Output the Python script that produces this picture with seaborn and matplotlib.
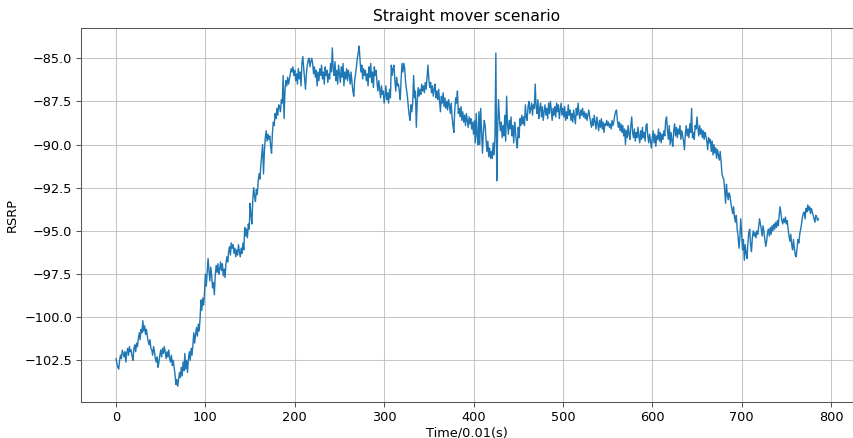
import numpy as np
import pandas as pd
import matplotlib
matplotlib.use("Agg")
import matplotlib.pyplot as plt
import seaborn as sns

title = "Straight mover scenario"
x_label = "Time/0.01(s)"
y_label = "RSRP"

rsrp = [
    -102.4,-102.7,-102.9,-103.0,-102.5,-102.2,-102.4,-101.9,-102.1,-102.3,
    -102.0,-102.6,-102.1,-101.8,-102.2,-101.7,-102.0,-101.9,-102.3,-102.5,
    -101.8,-101.6,-102.0,-101.5,-101.7,-101.2,-100.9,-101.3,-100.7,-100.9,
    -100.2,-100.8,-100.5,-101.0,-100.7,-101.1,-101.4,-101.6,-101.3,-101.8,
    -101.9,-102.2,-101.7,-102.0,-102.4,-102.6,-102.3,-102.9,-102.6,-102.2,
    -101.9,-102.3,-101.8,-102.1,-101.7,-102.0,-102.4,-102.0,-102.3,-101.9,
    -102.4,-102.6,-102.2,-102.8,-102.5,-102.9,-103.3,-103.9,-103.6,-104.0,
    -103.6,-103.2,-103.5,-102.9,-103.4,-102.6,-103.1,-102.1,-103.0,-102.5,
    -103.2,-102.4,-102.0,-102.5,-101.8,-102.2,-101.6,-100.9,-101.5,-101.0,
    -100.6,-101.1,-100.4,-100.8,-100.1,-99.0,-99.6,-98.9,-99.3,-98.6,
    -97.5,-98.2,-97.4,-96.6,-97.3,-97.9,-97.1,-97.6,-98.3,-98.0,
    -98.7,-97.6,-97.0,-97.4,-96.9,-97.5,-97.2,-96.8,-97.3,-96.9,
    -97.6,-97.2,-97.7,-96.9,-96.5,-96.8,-96.2,-95.9,-96.4,-95.7,
    -96.0,-95.8,-96.3,-96.0,-96.5,-96.1,-96.4,-95.8,-96.2,-96.5,
    -96.0,-96.3,-95.7,-96.1,-94.8,-95.3,-94.9,-95.4,-94.6,-94.9,
    -93.4,-94.1,-94.6,-93.2,-92.5,-93.0,-93.3,-92.6,-92.9,-92.2,
    -91.7,-92.0,-91.2,-90.6,-90.0,-91.7,-90.4,-89.6,-89.2,-89.8,
    -89.4,-89.7,-89.5,-90.1,-90.5,-89.3,-88.7,-88.9,-88.2,-88.5,
    -87.9,-88.3,-87.7,-87.8,-88.1,-87.4,-87.6,-86.0,-88.5,-86.9,
    -86.3,-86.6,-86.1,-86.5,-86.2,-85.9,-85.6,-85.8,-85.5,-86.0,
    -85.7,-86.3,-85.9,-86.5,-85.6,-86.2,-85.8,-86.6,-85.3,-84.9,
    -85.6,-86.2,-86.8,-85.9,-85.4,-85.1,-85.0,-85.5,-85.2,-85.0,
    -85.3,-85.9,-85.5,-86.1,-85.7,-86.6,-85.8,-86.3,-85.6,-86.0,
    -85.4,-86.2,-85.8,-86.5,-85.5,-86.0,-85.7,-86.4,-85.9,-86.2,
    -85.3,-85.8,-84.4,-85.6,-86.0,-85.2,-86.3,-85.7,-86.5,-85.4,
    -85.9,-86.4,-85.5,-86.1,-85.3,-86.6,-85.8,-86.2,-85.6,-86.3,
    -85.7,-86.0,-86.5,-85.8,-86.4,-86.9,-87.2,-86.3,-85.9,-85.5,
    -85.0,-84.7,-84.3,-85.1,-85.8,-85.4,-86.2,-85.6,-86.0,-85.7,
    -86.3,-85.9,-86.6,-85.5,-86.1,-85.3,-86.4,-85.8,-86.7,-85.5,
    -86.0,-85.7,-86.4,-86.9,-86.3,-86.8,-87.3,-86.6,-87.1,-86.9,
    -87.6,-87.2,-86.6,-87.4,-87.0,-87.6,-86.8,-87.3,-85.4,-86.0,
    -85.6,-85.4,-86.3,-86.9,-86.1,-86.6,-86.5,-86.9,-87.4,-86.2,
    -85.3,-85.8,-85.3,-85.6,-86.4,-86.8,-87.2,-87.8,-88.3,-88.6,
    -87.7,-88.1,-87.5,-86.0,-87.3,-86.9,-89.0,-87.5,-86.7,-87.2,
    -86.8,-87.1,-86.5,-86.9,-86.6,-87.0,-86.4,-86.8,-86.1,-85.4,
    -86.2,-86.7,-86.4,-87.0,-86.6,-87.2,-86.8,-86.5,-87.3,-86.9,
    -87.4,-86.8,-87.5,-88.1,-87.2,-87.6,-87.0,-87.8,-87.3,-87.9,
    -87.5,-88.0,-87.4,-87.7,-88.2,-87.6,-88.4,-88.9,-89.3,-88.0,
    -87.3,-87.6,-86.9,-88.2,-87.9,-88.4,-87.8,-88.6,-88.1,-88.7,
    -88.3,-88.9,-88.2,-88.6,-89.0,-88.4,-88.8,-88.5,-89.1,-88.7,
    -89.4,-88.6,-89.9,-88.2,-89.5,-90.0,-88.1,-90.0,-87.9,-89.2,
    -90.5,-89.3,-88.6,-88.9,-89.7,-90.4,-89.8,-90.7,-90.2,-90.8,
    -90.4,-90.8,-89.9,-90.6,-89.5,-84.7,-92.1,-89.0,-87.4,-88.5,
    -89.2,-88.7,-89.6,-88.9,-89.5,-88.3,-89.8,-87.2,-88.8,-89.4,
    -88.6,-89.1,-88.4,-89.5,-88.9,-89.9,-88.7,-89.3,-89.8,-90.2,
    -89.0,-89.6,-88.5,-88.9,-88.3,-88.8,-88.4,-88.9,-87.7,-88.4,
    -88.6,-87.8,-87.5,-88.2,-87.9,-87.6,-88.3,-87.7,-87.9,-86.5,
    -87.8,-88.2,-87.4,-88.5,-87.9,-87.6,-88.4,-87.8,-88.6,-88.1,
    -87.7,-88.3,-87.9,-88.5,-87.6,-88.2,-87.5,-88.0,-88.6,-87.9,
    -88.3,-87.8,-88.4,-87.6,-88.1,-87.7,-88.5,-88.0,-87.6,-88.3,
    -87.9,-88.4,-87.8,-88.6,-88.1,-88.5,-87.7,-88.3,-88.0,-88.6,
    -88.2,-88.7,-88.0,-88.4,-88.8,-87.9,-88.3,-87.6,-88.2,-88.5,
    -88.0,-88.3,-87.9,-88.4,-88.1,-88.5,-88.2,-88.6,-88.3,-88.0,
    -88.4,-88.7,-89.0,-88.5,-88.9,-88.3,-88.7,-89.1,-88.4,-88.8,
    -89.2,-88.6,-89.0,-88.5,-89.1,-88.7,-89.3,-88.8,-88.9,-88.6,
    -88.9,-88.7,-89.0,-88.8,-89.1,-88.6,-88.9,-88.7,-88.3,-88.1,
    -88.0,-88.6,-89.0,-88.7,-89.2,-88.8,-89.3,-88.9,-89.5,-89.1,
    -90.0,-89.2,-89.6,-88.9,-89.4,-89.7,-88.9,-88.4,-89.3,-89.6,
    -89.1,-89.8,-89.3,-89.6,-89.0,-89.5,-89.9,-89.2,-89.7,-89.0,
    -89.6,-89.3,-89.8,-88.9,-88.8,-89.5,-89.9,-89.4,-89.8,-90.2,
    -89.6,-89.2,-89.9,-89.4,-90.1,-89.5,-89.7,-89.1,-89.8,-89.3,
    -89.9,-89.4,-89.7,-89.2,-89.5,-88.6,-88.4,-89.2,-89.7,-88.9,
    -90.0,-89.3,-89.8,-90.1,-89.2,-88.8,-89.5,-89.0,-89.6,-89.1,
    -89.4,-88.9,-89.7,-89.2,-89.5,-89.8,-90.3,-89.4,-88.9,-89.5,
    -89.1,-89.6,-88.8,-89.3,-87.9,-89.6,-89.3,-89.7,-88.9,-89.1,
    -88.4,-89.0,-89.5,-88.9,-89.4,-89.1,-89.6,-89.2,-89.7,-89.3,
    -89.5,-89.8,-90.3,-89.6,-89.9,-89.7,-90.4,-89.8,-90.6,-90.0,
    -90.5,-90.2,-90.8,-90.3,-90.6,-90.9,-90.4,-91.0,-91.7,-91.9,
    -92.0,-92.6,-93.4,-92.3,-92.9,-93.2,-92.8,-93.0,-93.4,-93.7,
    -94.0,-93.6,-94.2,-94.5,-94.1,-94.9,-95.3,-96.0,-95.4,-94.3,
    -95.2,-96.1,-95.5,-96.7,-95.8,-96.3,-96.6,-95.7,-95.1,-94.9,
    -95.8,-96.2,-95.4,-95.0,-95.3,-95.1,-95.4,-95.0,-95.2,-94.8,
    -94.3,-94.6,-94.9,-95.3,-94.7,-95.1,-95.5,-95.9,-95.6,-95.1,
    -94.9,-95.3,-94.8,-95.2,-94.7,-95.0,-94.6,-94.9,-94.5,-94.8,
    -94.4,-94.7,-94.1,-93.6,-94.0,-94.4,-94.6,-94.3,-94.5,-94.2,
    -94.6,-94.4,-94.9,-95.3,-95.6,-95.2,-95.8,-96.1,-95.5,-96.0,
    -96.4,-96.5,-96.0,-95.5,-95.7,-95.2,-94.9,-94.6,-94.2,-94.0,
    -93.9,-94.3,-93.7,-93.9,-93.5,-93.8,-93.6,-94.0,-93.7,-93.9,
    -94.1,-94.3,-94.5,-94.1,-94.2,-94.4,-94.3,
]
time = list(range(len(rsrp)))
x_ticks = [0, 100, 200, 300, 400, 500, 600, 700, 800]
y_ticks = [-102.5, -100.0, -97.5, -95.0, -92.5, -90.0, -87.5, -85.0]

df = pd.DataFrame({"time": time, "rsrp": rsrp})

fig = plt.figure(figsize=(8.54, 4.38), dpi=100)
ax = fig.add_axes([81/854, 1 - 402/438, (853 - 81)/854, (402 - 28)/438])
sns.lineplot(data=df, x="time", y="rsrp", ax=ax, color="#1f77b4", linewidth=1.0)
ax.set_xlim(-39.2, 824.6)
ax.set_ylim(-104.91, -83.25)
ax.set_xticks(x_ticks)
ax.set_yticks(y_ticks)
ax.set_yticklabels([f"{v:.1f}".replace("-", "\u2212") for v in y_ticks])
ax.grid(True, color="#b0b0b0", linewidth=0.75, alpha=0.7)
ax.set_axisbelow(True)
for s in ax.spines.values():
    s.set_color("#555555")
    s.set_linewidth(0.75)
ax.tick_params(labelsize=9.3, length=3.3, width=0.75, color="#555555", pad=3)
ax.set_xlabel(x_label, fontsize=9.3, labelpad=2)
ax.set_ylabel(y_label, fontsize=9.3, labelpad=4)
ax.set_title(title, fontsize=11.2, pad=5)
fig.savefig("out.png", dpi=100)
